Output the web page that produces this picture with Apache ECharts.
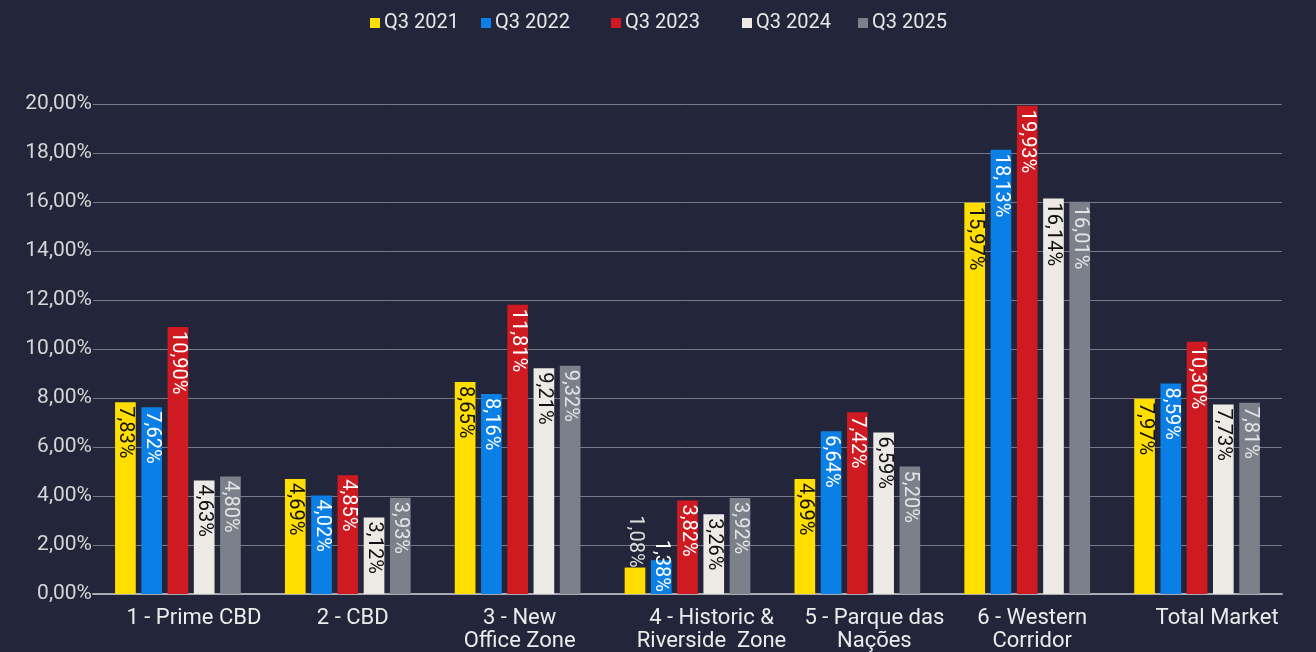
<!DOCTYPE html>
<html lang="en">
<head>
  <meta charset="UTF-8">
  <title>Vacancy rate by zone</title>
  <script src="https://cdn.jsdelivr.net/npm/echarts@6/dist/echarts.min.js"></script>
  <style>
    html, body { margin: 0; padding: 0; background: #23263a; }
    #chart { width: 1316px; height: 652px; }
  </style>
</head>
<body>
<div id="chart"></div>
<script>
  const zones = ["1 - Prime CBD", "2 - CBD", "3 - New\nOffice Zone", "4 - Historic &\nRiverside  Zone",
                 "5 - Parque das\nNações", "6 - Western\nCorridor", "Total Market"];
  const years = ["Q3 2021", "Q3 2022", "Q3 2023", "Q3 2024", "Q3 2025"];
  const q3_2021 = [7.83, 4.69, 8.65, 1.08, 4.69, 15.97, 7.97];
  const q3_2022 = [7.62, 4.02, 8.16, 1.38, 6.64, 18.13, 8.59];
  const q3_2023 = [10.90, 4.85, 11.81, 3.82, 7.42, 19.93, 10.30];
  const q3_2024 = [4.63, 3.12, 9.21, 3.26, 6.59, 16.14, 7.73];
  const q3_2025 = [4.80, 3.93, 9.32, 3.92, 5.20, 16.01, 7.81];
  const yTicks = [0, 2, 4, 6, 8, 10, 12, 14, 16, 18, 20];

  const colors = ["#ffde00", "#0a7fe6", "#ce1a20", "#ede9e4", "#7b808b"];
  const labelColors = ["#111111", "#ffffff", "#ffffff", "#111111", "#e4e4e4"];
  const legendLeft = [370, 481, 611, 742, 858];
  // the category labels in the original sit a bit right of the group centres
  const labelShift = [16, 5, 2, 24, 17, 5, 20];
  const seriesData = [q3_2021, q3_2022, q3_2023, q3_2024, q3_2025];

  const pct = v => v.toFixed(2).replace('.', ',') + '%';
  const font = 'Roboto';

  const chart = echarts.init(document.getElementById('chart'));

  const series = years.map((name, i) => ({
    name: name,
    type: 'bar',
    barGap: '27%',
    barCategoryGap: '26%',
    itemStyle: { color: colors[i] },
    label: {
      show: true,
      position: 'insideTop',
      rotate: -90,
      align: 'left',
      verticalAlign: 'middle',
      distance: 4,
      color: labelColors[i],
      fontFamily: font,
      fontSize: 20,
      formatter: p => pct(p.value)
    },
    data: seriesData[i].map((v, j) => {
      // short bars in zone 4: labels sit outside / bottom-aligned
      if (j === 3 && i === 0) {
        return { value: v, label: { position: 'top', align: 'right', distance: 0, color: '#dddddd' } };
      }
      if (j === 3 && i === 1) {
        return { value: v, label: { position: 'insideBottom', align: 'right', distance: 2, color: '#ffffff' } };
      }
      return v;
    })
  }));

  const rich = {};
  labelShift.forEach((s, i) => {
    rich['s' + i] = { color: '#ececec', fontFamily: font, fontSize: 22, lineHeight: 23, padding: [0, 0, 0, 2 * s] };
  });

  chart.setOption({
    backgroundColor: '#23263a',
    animation: false,
    legend: years.map((name, i) => ({
      data: [name],
      left: legendLeft[i],
      top: 13,
      padding: 0,
      icon: 'rect',
      itemWidth: 10,
      itemHeight: 10,
      itemGap: 4,
      textStyle: { color: '#e8e8e8', fontFamily: font, fontSize: 20, padding: [0, 0, 0, -1] }
    })),
    grid: { left: 93, right: 34, top: 104, bottom: 58, containLabel: false, outerBoundsMode: 'none' },
    xAxis: {
      type: 'category',
      data: zones,
      axisLine: { lineStyle: { color: '#a9abb3', width: 2 } },
      axisTick: { show: false },
      axisLabel: {
        color: '#ececec',
        fontFamily: font,
        fontSize: 22,
        lineHeight: 23,
        margin: 13,
        interval: 0,
        formatter: (val, idx) => val.split('\n').map(l => '{s' + idx + '|' + l + '}').join('\n'),
        rich: rich
      }
    },
    yAxis: {
      type: 'value',
      min: yTicks[0],
      max: yTicks[yTicks.length - 1],
      interval: 2,
      axisLine: { show: false },
      axisTick: { show: false },
      splitLine: { lineStyle: { color: '#777a86', width: 1 } },
      axisLabel: {
        color: '#d6d6d6',
        fontFamily: font,
        fontSize: 21,
        margin: 1,
        formatter: v => pct(v)
      }
    },
    series: series
  });
</script>
</body>
</html>
